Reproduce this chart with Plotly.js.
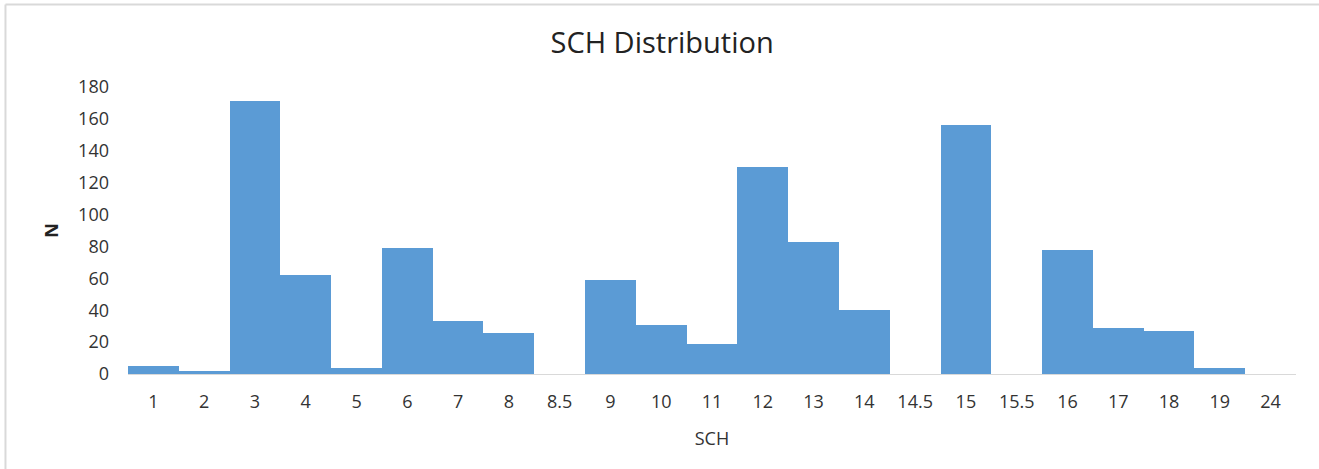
<!DOCTYPE html>
<html>
<head>
<meta charset="utf-8">
<script src="https://cdn.plot.ly/plotly-3.0.1.min.js"></script>
<style>
html,body{margin:0;padding:0;background:#fff;}
#chart{width:1319px;height:469px;}
</style>
</head>
<body>
<div id="chart"></div>
<script>
const categories = ["1","2","3","4","5","6","7","8","8.5","9","10","11","12","13","14","14.5","15","15.5","16","17","18","19","24"];
const counts = [5,2,171,62,4,79,33,26,0,59,31,19,130,83,40,0,156,0,78,29,27,4,0];
const yTicks = [0,20,40,60,80,100,120,140,160,180];

const font = "Open Sans, Liberation Sans, sans-serif";
const trace = {
  type: "bar",
  x: categories,
  y: counts,
  marker: {color: "#5b9bd5", line: {width: 0}},
  hoverinfo: "x+y"
};
const layout = {
  width: 1319, height: 469,
  margin: {l: 128, r: 23, t: 87, b: 95},
  paper_bgcolor: "#fff", plot_bgcolor: "#fff",
  bargap: 0,
  showlegend: false,
  title: {text: "SCH Distribution", x: 0.502, xanchor: "center", y: 0.908, yanchor: "middle",
          font: {family: font, size: 29, color: "#222"}},
  xaxis: {
    type: "category",
    tickvals: categories, ticktext: categories,
    showgrid: false, zeroline: false,
    showline: true, linecolor: "#d9d9d9", linewidth: 1,
    ticks: "", ticklen: 0,
    ticklabelstandoff: 11,
    tickfont: {family: font, size: 18, color: "#333"},
    title: {text: "SCH", font: {family: font, size: 18, color: "#333"}, standoff: 20}
  },
  yaxis: {
    range: [0, 180],
    tickvals: yTicks,
    showgrid: false, zeroline: false, showline: false,
    ticks: "",
    ticklabelstandoff: 18,
    tickfont: {family: font, size: 18, color: "#333"},
    title: {text: "<b>N</b>", font: {family: font, size: 18, color: "#222"}, standoff: 14}
  },
  shapes: [
    {type: "line", xref: "paper", yref: "paper", x0: -0.1049, x1: 1.02, y0: 1.2875, y1: 1.2875,
     line: {color: "#d9d9d9", width: 2}},
    {type: "line", xref: "paper", yref: "paper", x0: -0.1049, x1: -0.1049, y0: 1.2875, y1: -0.34,
     line: {color: "#d9d9d9", width: 2}}
  ]
};
Plotly.newPlot("chart", [trace], layout, {displayModeBar: false, staticPlot: true});
</script>
</body>
</html>
